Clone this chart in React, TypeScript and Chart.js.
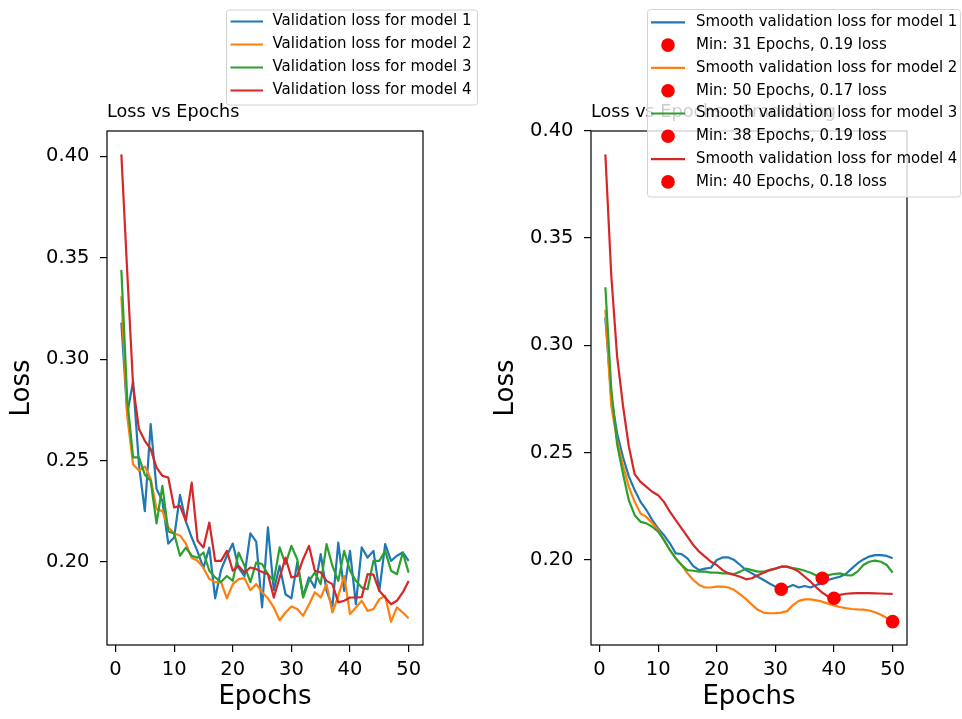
import React, { useEffect, useRef } from "react";
import { Chart, registerables } from "chart.js";

Chart.register(...registerables);

const FONT = "'DejaVu Sans', 'Liberation Sans', sans-serif";

const EPOCHS = [
  1, 2, 3, 4, 5, 6, 7, 8, 9, 10, 11, 12, 13, 14, 15, 16, 17, 18, 19, 20, 21, 22, 23, 24, 25,
  26, 27, 28, 29, 30, 31, 32, 33, 34, 35, 36, 37, 38, 39, 40, 41, 42, 43, 44, 45, 46, 47, 48, 49, 50,
];
const X_TICKS = [0, 10, 20, 30, 40, 50];
const Y_TICKS = [0.2, 0.25, 0.3, 0.35, 0.4];

const VAL_LOSS_1 = [
  0.318, 0.273, 0.289, 0.248, 0.225, 0.268, 0.236, 0.23, 0.209, 0.212, 0.233, 0.22, 0.212, 0.205, 0.197,
  0.207, 0.182, 0.196, 0.203, 0.209, 0.197, 0.193, 0.214, 0.21, 0.1775, 0.217, 0.186, 0.198, 0.184, 0.182,
  0.1997, 0.183, 0.1923, 0.1873, 0.2038, 0.1857, 0.178, 0.2095, 0.1857, 0.2054, 0.1791, 0.2071, 0.2021,
  0.2054, 0.1857, 0.2087, 0.2005, 0.203, 0.2046, 0.2005,
];
const VAL_LOSS_2 = [
  0.331, 0.272, 0.248, 0.245, 0.247, 0.241, 0.226, 0.225, 0.217, 0.214, 0.213, 0.209, 0.202, 0.2005, 0.197,
  0.1915, 0.19, 0.19, 0.182, 0.189, 0.1915, 0.192, 0.186, 0.189, 0.185, 0.182, 0.1775, 0.1712, 0.175, 0.178,
  0.1767, 0.1734, 0.179, 0.185, 0.1824, 0.189, 0.175, 0.1832, 0.193, 0.1742, 0.1775, 0.1808, 0.1758, 0.1767,
  0.1816, 0.1832, 0.1705, 0.1775, 0.175, 0.1722,
];
const VAL_LOSS_3 = [
  0.344, 0.28, 0.2515, 0.2515, 0.243, 0.24, 0.219, 0.2375, 0.215, 0.214, 0.203, 0.207, 0.203, 0.202, 0.2046,
  0.1956, 0.1923, 0.19, 0.193, 0.1906, 0.2046, 0.198, 0.19, 0.1997, 0.1989, 0.1939, 0.1906, 0.2071, 0.1989,
  0.2079, 0.2013, 0.1824, 0.1906, 0.1947, 0.189, 0.2087, 0.198, 0.1906, 0.2054, 0.1956, 0.1906, 0.1873,
  0.1865, 0.2005, 0.2005, 0.2054, 0.1956, 0.1939, 0.2046, 0.1947,
];
const VAL_LOSS_4 = [
  0.401, 0.343, 0.287, 0.2655, 0.2597, 0.2556, 0.2465, 0.2424, 0.2416, 0.2268, 0.2276, 0.2202, 0.2391,
  0.2104, 0.2071, 0.2194, 0.2005, 0.2005, 0.2054, 0.1956, 0.198, 0.1947, 0.1972, 0.1964, 0.195, 0.1939,
  0.1824, 0.1923, 0.2021, 0.1923, 0.1931, 0.2013, 0.2079, 0.1956, 0.1948, 0.1906, 0.189, 0.18, 0.1808,
  0.1824, 0.1824, 0.1826, 0.1939, 0.1937, 0.1857, 0.1824, 0.1791, 0.1808, 0.1849, 0.1906,
];

const SMOOTH_LOSS_1 = [
  0.313, 0.276, 0.259, 0.248, 0.239, 0.2326, 0.2271, 0.2233, 0.2186, 0.2147, 0.2116, 0.2078, 0.2031,
  0.2028, 0.2008, 0.1972, 0.1953, 0.196, 0.1964, 0.2, 0.2012, 0.2012, 0.2, 0.1977, 0.1953, 0.1938, 0.1922,
  0.1907, 0.1891, 0.1876, 0.1866, 0.1872, 0.1884, 0.1872, 0.1879, 0.1872, 0.1884, 0.1891, 0.1907, 0.1915,
  0.1922, 0.1935, 0.196, 0.1984, 0.2003, 0.2016, 0.2023, 0.2023, 0.2019, 0.2008,
];
const SMOOTH_LOSS_2 = [
  0.3166, 0.272, 0.2558, 0.2442, 0.2341, 0.2271, 0.2217, 0.2201, 0.2171, 0.214, 0.2093, 0.2047, 0.2008,
  0.1977, 0.1938, 0.1907, 0.1884, 0.1872, 0.1872, 0.1876, 0.1876, 0.1872, 0.186, 0.184, 0.1818, 0.1792,
  0.1768, 0.1755, 0.1752, 0.1753, 0.1755, 0.1762, 0.179, 0.181, 0.1817, 0.1817, 0.1812, 0.1806, 0.1797,
  0.1788, 0.1781, 0.1776, 0.1772, 0.177, 0.1769, 0.1765, 0.1757, 0.1745, 0.173, 0.1713,
];
const SMOOTH_LOSS_3 = [
  0.3271, 0.28, 0.254, 0.2403, 0.2279, 0.2209, 0.2178, 0.2171, 0.2155, 0.2132, 0.2093, 0.2047, 0.2008,
  0.1977, 0.1953, 0.195, 0.1946, 0.1946, 0.1941, 0.1941, 0.1938, 0.1938, 0.1935, 0.1946, 0.196, 0.1953,
  0.1946, 0.1946, 0.1953, 0.196, 0.1969, 0.1969, 0.1962, 0.1958, 0.195, 0.1941, 0.1928, 0.1918, 0.193,
  0.1935, 0.1938, 0.193, 0.1928, 0.1946, 0.1977, 0.1992, 0.1997, 0.1992, 0.1977, 0.1941,
];
const SMOOTH_LOSS_4 = [
  0.389, 0.333, 0.295, 0.272, 0.253, 0.24, 0.2364, 0.2341, 0.2318, 0.2302, 0.2271, 0.2225, 0.2186, 0.2147,
  0.2109, 0.207, 0.2039, 0.2016, 0.1992, 0.1977, 0.1953, 0.1938, 0.193, 0.1922, 0.191, 0.1915, 0.1929,
  0.1941, 0.1953, 0.196, 0.1969, 0.1969, 0.196, 0.1946, 0.1922, 0.1899, 0.1872, 0.1848, 0.183, 0.1822,
  0.1838, 0.1843, 0.1845, 0.1846, 0.1846, 0.1846, 0.1845, 0.1844, 0.1843, 0.1842,
];

const MIN_EPOCHS = [31, 50, 38, 40];
const MIN_LOSSES = [0.1864, 0.1713, 0.1915, 0.1822];

const MODEL_COLORS = ["#1f77b4", "#ff7f0e", "#2ca02c", "#d62728"];
const MIN_COLOR = "#ff0000";
const MODEL_NUMBERS = [1, 2, 3, 4];

const VAL_SERIES = [VAL_LOSS_1, VAL_LOSS_2, VAL_LOSS_3, VAL_LOSS_4];
const SMOOTH_SERIES = [SMOOTH_LOSS_1, SMOOTH_LOSS_2, SMOOTH_LOSS_3, SMOOTH_LOSS_4];

const LEFT_TITLE = "Loss vs Epochs";
const RIGHT_TITLE = "Loss vs Epochs - Smoothing";

type LegendItem = { kind: "line" | "dot"; color: string; label: string };

type DecorCfg = {
  offsetX: number;
  title: string;
  box: { x: number; y: number; w: number; h: number };
  rowY0: number;
  rowStep: number;
  handleX0: number;
  handleX1: number;
  textX: number;
  items: LegendItem[];
};

function roundRectPath(ctx: CanvasRenderingContext2D, x: number, y: number, w: number, h: number, r: number) {
  ctx.beginPath();
  ctx.moveTo(x + r, y);
  ctx.lineTo(x + w - r, y);
  ctx.arcTo(x + w, y, x + w, y + r, r);
  ctx.lineTo(x + w, y + h - r);
  ctx.arcTo(x + w, y + h, x + w - r, y + h, r);
  ctx.lineTo(x + r, y + h);
  ctx.arcTo(x, y + h, x, y + h - r, r);
  ctx.lineTo(x, y + r);
  ctx.arcTo(x, y, x + r, y, r);
  ctx.closePath();
}

function makeDecor(cfg: DecorCfg) {
  return {
    id: "decor",
    afterDatasetsDraw(chart: any) {
      const { ctx, chartArea: a } = chart;
      ctx.save();
      ctx.strokeStyle = "#000";
      ctx.lineWidth = 1.2;
      ctx.strokeRect(a.left, a.top, a.right - a.left, a.bottom - a.top);
      ctx.restore();
    },
    afterDraw(chart: any) {
      const ctx: CanvasRenderingContext2D = chart.ctx;
      const ox = cfg.offsetX;
      ctx.save();
      ctx.fillStyle = "#000";
      ctx.font = `17.6px ${FONT}`;
      ctx.textAlign = "left";
      ctx.textBaseline = "alphabetic";
      ctx.fillText(cfg.title, chart.chartArea.left, 117);

      const b = cfg.box;
      roundRectPath(ctx, b.x - ox, b.y, b.w, b.h, 3);
      ctx.fillStyle = "rgba(255,255,255,0.8)";
      ctx.fill();
      ctx.strokeStyle = "#d4d4d4";
      ctx.lineWidth = 1;
      ctx.stroke();

      ctx.font = `15px ${FONT}`;
      ctx.textBaseline = "middle";
      cfg.items.forEach((it, i) => {
        const y = cfg.rowY0 + i * cfg.rowStep;
        if (it.kind === "line") {
          ctx.strokeStyle = it.color;
          ctx.lineWidth = 2.2;
          ctx.beginPath();
          ctx.moveTo(cfg.handleX0 - ox, y);
          ctx.lineTo(cfg.handleX1 - ox, y);
          ctx.stroke();
        } else {
          ctx.fillStyle = it.color;
          ctx.beginPath();
          ctx.arc((cfg.handleX0 + cfg.handleX1) / 2 - ox, y, 6.8, 0, Math.PI * 2);
          ctx.fill();
        }
        ctx.fillStyle = "#000";
        ctx.fillText(it.label, cfg.textX - ox, y);
      });
      ctx.restore();
    },
  };
}

function paddedRange(values: number[]) {
  const lo = Math.min(...values);
  const hi = Math.max(...values);
  const m = (hi - lo) * 0.05;
  return [lo - m, hi + m];
}

function makeScales(yRange: number[], xRange: number[]) {
  const gridCommon = {
    display: true,
    drawOnChartArea: false,
    drawTicks: true,
    tickLength: 7,
    tickWidth: 1.2,
    tickColor: "#000",
    color: "#000",
    lineWidth: 1.2,
  };
  return {
    x: {
      type: "linear",
      min: xRange[0],
      max: xRange[1],
      afterBuildTicks: (s: any) => {
        s.ticks = X_TICKS.map((v) => ({ value: v }));
      },
      afterFit: (s: any) => {
        s.height = 74;
      },
      grid: gridCommon,
      border: { display: false },
      ticks: {
        color: "#000",
        font: { family: FONT, size: 19.5 },
        padding: 5.8,
        maxRotation: 0,
        autoSkip: false,
        callback: (v: any) => String(v),
      },
      title: {
        display: true,
        text: "Epochs",
        color: "#000",
        font: { family: FONT, size: 26 },
        padding: { top: 0, bottom: 5.7 },
      },
    },
    y: {
      type: "linear",
      min: yRange[0],
      max: yRange[1],
      afterBuildTicks: (s: any) => {
        s.ticks = Y_TICKS.map((v) => ({ value: v }));
      },
      afterFit: (s: any) => {
        s.width = 107;
      },
      grid: gridCommon,
      border: { display: false },
      ticks: {
        color: "#000",
        font: { family: FONT, size: 19.5 },
        padding: 10.5,
        autoSkip: false,
        callback: (v: any) => Number(v).toFixed(2),
      },
      title: {
        display: true,
        text: "Loss",
        color: "#000",
        font: { family: FONT, size: 26 },
        padding: { top: 6.4, bottom: 0 },
      },
    },
  };
}

function toPoints(xs: number[], ys: number[]) {
  return xs.map((x, i) => ({ x, y: ys[i] }));
}

export default function App() {
  const leftRef = useRef<HTMLCanvasElement>(null);
  const rightRef = useRef<HTMLCanvasElement>(null);

  useEffect(() => {
    const xRange = paddedRange(EPOCHS);
    const leftY = paddedRange(VAL_SERIES.flat());
    const rightY = paddedRange([...SMOOTH_SERIES.flat(), ...MIN_LOSSES]);

    const leftDatasets = VAL_SERIES.map((s, i) => ({
      label: `Validation loss for model ${MODEL_NUMBERS[i]}`,
      data: toPoints(EPOCHS, s),
      borderColor: MODEL_COLORS[i],
      backgroundColor: MODEL_COLORS[i],
      borderWidth: 2.2,
      borderJoinStyle: "round",
      pointRadius: 0,
      pointHoverRadius: 0,
      fill: false,
      tension: 0,
      order: 10 - i,
    }));

    const rightDatasets: any[] = [];
    SMOOTH_SERIES.forEach((s, i) => {
      rightDatasets.push({
        label: `Smooth validation loss for model ${MODEL_NUMBERS[i]}`,
        data: toPoints(EPOCHS, s),
        borderColor: MODEL_COLORS[i],
        backgroundColor: MODEL_COLORS[i],
        borderWidth: 2.2,
        borderJoinStyle: "round",
        pointRadius: 0,
        pointHoverRadius: 0,
        fill: false,
        tension: 0,
        order: 20 - 2 * i,
      });
      rightDatasets.push({
        label: `Min: ${MIN_EPOCHS[i]} Epochs, ${MIN_LOSSES[i].toFixed(2)} loss`,
        data: [{ x: MIN_EPOCHS[i], y: MIN_LOSSES[i] }],
        showLine: false,
        borderColor: MIN_COLOR,
        backgroundColor: MIN_COLOR,
        pointBackgroundColor: MIN_COLOR,
        pointBorderWidth: 0,
        pointRadius: 6.8,
        pointHoverRadius: 6.8,
        order: 19 - 2 * i,
      });
    });

    const leftItems: LegendItem[] = leftDatasets.map((d, i) => ({
      kind: "line",
      color: MODEL_COLORS[i],
      label: d.label,
    }));
    const rightItems: LegendItem[] = rightDatasets.map((d, i) => ({
      kind: i % 2 === 0 ? "line" : "dot",
      color: i % 2 === 0 ? MODEL_COLORS[i / 2] : MIN_COLOR,
      label: d.label,
    }));

    const common = (scales: any) => ({
      responsive: false,
      maintainAspectRatio: false,
      animation: false,
      events: [],
      layout: { padding: { left: 0, top: 131, right: 0, bottom: 0 } },
      plugins: { legend: { display: false }, title: { display: false }, tooltip: { enabled: false } },
      scales,
    });

    const leftOpts: any = common(makeScales(leftY, xRange));
    leftOpts.layout.padding.right = 58;
    const rightOpts: any = common(makeScales(rightY, xRange));
    rightOpts.layout.padding.right = 55;

    const c1 = new Chart(leftRef.current as HTMLCanvasElement, {
      type: "line",
      data: { datasets: leftDatasets as any },
      options: leftOpts,
      plugins: [
        makeDecor({
          offsetX: 0,
          title: LEFT_TITLE,
          box: { x: 226.5, y: 10, w: 251, h: 95 },
          rowY0: 21.5,
          rowStep: 23,
          handleX0: 230.5,
          handleX1: 263,
          textX: 272.5,
          items: leftItems,
        }) as any,
      ],
    });

    const c2 = new Chart(rightRef.current as HTMLCanvasElement, {
      type: "line",
      data: { datasets: rightDatasets },
      options: rightOpts,
      plugins: [
        makeDecor({
          offsetX: 484,
          title: RIGHT_TITLE,
          box: { x: 647.5, y: 9.5, w: 313, h: 187.5 },
          rowY0: 22.3,
          rowStep: 22.8,
          handleX0: 651,
          handleX1: 685,
          textX: 696,
          items: rightItems,
        }) as any,
      ],
    });

    return () => {
      c1.destroy();
      c2.destroy();
    };
  }, []);

  return (
    <div
      style={{
        position: "absolute",
        left: 0,
        top: 0,
        width: 962,
        height: 719,
        background: "#ffffff",
        overflow: "hidden",
      }}
    >
      <canvas
        ref={leftRef}
        width={481}
        height={719}
        style={{ position: "absolute", left: 0, top: 0, width: 481, height: 719 }}
      />
      <canvas
        ref={rightRef}
        width={478}
        height={719}
        style={{ position: "absolute", left: 484, top: 0, width: 478, height: 719 }}
      />
    </div>
  );
}
